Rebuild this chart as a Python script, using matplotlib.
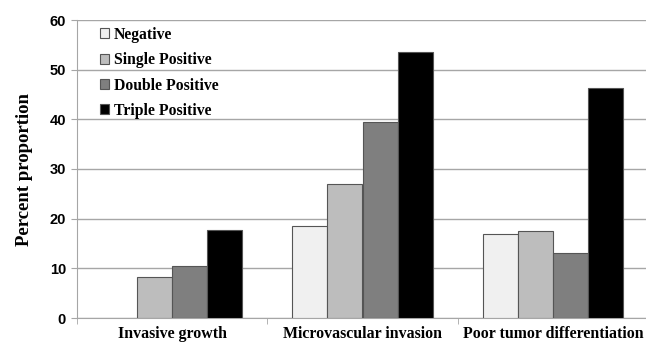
import numpy as np
import matplotlib.pyplot as plt

categories = ['Invasive growth', 'Microvascular invasion', 'Poor tumor differentiation']
groups = ['Negative', 'Single Positive', 'Double Positive', 'Triple Positive']
negative = [0, 18.6, 16.9]
single = [8.2, 27.0, 17.5]
double = [10.4, 39.4, 13.1]
triple = [17.8, 53.5, 46.4]
colors = ['#f0f0f0', '#bdbdbd', '#7f7f7f', '#000000']

series = [negative, single, double, triple]

fig = plt.figure(figsize=(6.46, 3.43), dpi=100)
ax = fig.add_axes([77/646, 25/343, 571/646, 298/343])

x = np.arange(len(categories))
w = 0.184
for i, (vals, c) in enumerate(zip(series, colors)):
    pos = x + (i - 1.5) * w
    h = [v if v > 0 else np.nan for v in vals]
    ax.bar(pos, h, w, color=c, edgecolor='#555555', linewidth=0.8,
           label=groups[i], zorder=3)

ax.set_xlim(-0.5, 2.5)
ax.set_ylim(0, 60)
ax.set_yticks(range(0, 61, 10))
ax.yaxis.grid(True, color='#a6a6a6', linewidth=1, zorder=0)
ax.set_axisbelow(True)

for s in ['top', 'right']:
    ax.spines[s].set_visible(False)
for s in ['left', 'bottom']:
    ax.spines[s].set_color('#a6a6a6')

ax.set_xticks(x)
ax.set_xticklabels(categories, fontfamily='Liberation Serif', fontweight='bold', fontsize=11.4)
ax.tick_params(axis='x', length=0, pad=6)
ax.set_xticks([-0.5, 0.5, 1.5, 2.5], minor=True)
ax.tick_params(axis='x', which='minor', length=4, color='#a6a6a6')
ax.tick_params(axis='y', length=4, color='#a6a6a6', pad=4)
for t in ax.get_yticklabels():
    t.set_fontfamily('Liberation Sans')
    t.set_fontweight('bold')
    t.set_fontsize(10.5)

ax.set_ylabel('Percent proportion', fontfamily='Liberation Serif', fontweight='bold',
              fontsize=13.5, labelpad=12)

leg = ax.legend(loc='upper left', bbox_to_anchor=(0.015, 1.025), frameon=False,
                prop={'family': 'Liberation Serif', 'weight': 'bold', 'size': 11.3},
                handlelength=0.6, handleheight=0.6, handletextpad=0.3, labelspacing=0.6)

fig.savefig('out.png', dpi=100)
